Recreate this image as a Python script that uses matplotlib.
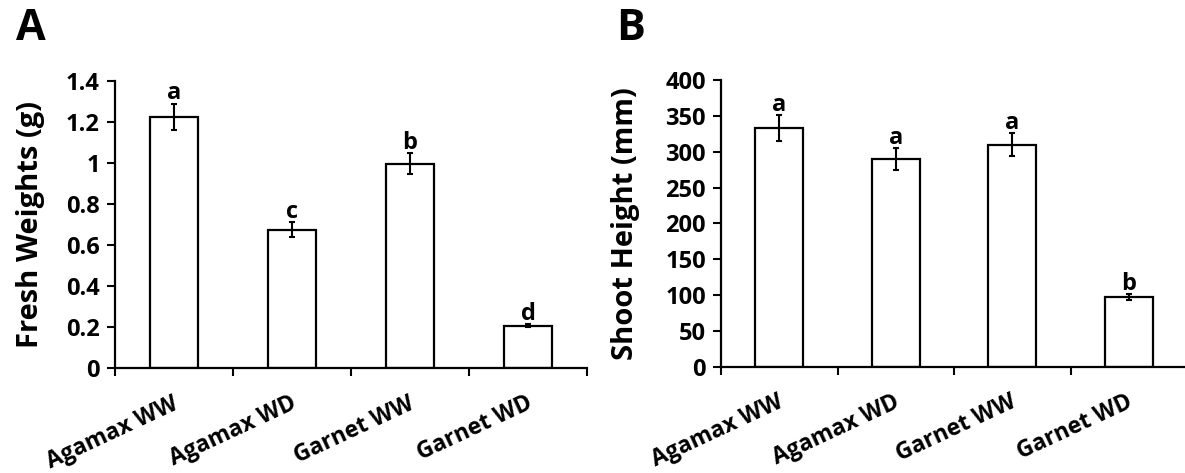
import matplotlib
matplotlib.use("Agg")
import matplotlib.pyplot as plt
from matplotlib.ticker import FixedLocator, NullFormatter
from matplotlib.transforms import ScaledTranslation

categories = ["Agamax WW", "Agamax WD", "Garnet WW", "Garnet WD"]

fresh_weight = [1.225, 0.675, 0.997, 0.207]
fresh_weight_err = [0.063, 0.035, 0.05, 0.006]
fresh_weight_letters = ["a", "c", "b", "d"]

shoot_height = [333, 290, 310, 97]
shoot_height_err = [17.5, 15, 16, 4.5]
shoot_height_letters = ["a", "a", "a", "b"]

plt.rcParams['font.family'] = ['Open Sans', 'DejaVu Sans']
plt.rcParams['font.weight'] = 'bold'

fig = plt.figure(figsize=(11.85, 4.73), dpi=100)
W, H = 1185, 473

def make_axes(left, right, top, bottom):
    return fig.add_axes([left / W, (H - bottom) / H, (right - left) / W, (bottom - top) / H])

axA = make_axes(115, 587, 81, 368)
axB = make_axes(721, 1187, 80, 366.7)

def draw(ax, vals, errs, letters, ylim, yticks, yticklabels, ylabel, letter_off, label_x):
    x = list(range(len(categories)))
    ax.bar(x, vals, width=0.41, color='white', edgecolor='black', linewidth=1.6, zorder=2)
    ax.errorbar(x, vals, yerr=errs, fmt='none', ecolor='black', elinewidth=1.5,
                capsize=2.2, capthick=1.5, zorder=3)
    for xi, v, e, l in zip(x, vals, errs, letters):
        ax.text(xi, v + e + letter_off, l, ha='center', va='baseline', fontsize=17,
                fontweight='bold')
    ax.set_xlim(-0.5, 3.5)
    ax.set_ylim(*ylim)
    ax.set_yticks(yticks)
    ax.set_yticklabels(yticklabels)
    ax.set_xticks(x)
    ax.set_xticklabels(categories, rotation=25, ha='right', rotation_mode='default')
    ax.xaxis.set_minor_locator(FixedLocator([-0.5, 0.5, 1.5, 2.5, 3.5]))
    ax.xaxis.set_minor_formatter(NullFormatter())
    ax.tick_params(axis='x', which='major', length=0, pad=17, labelsize=16.5)
    ax.tick_params(axis='x', which='minor', length=6, width=1.5, direction='out')
    ax.tick_params(axis='y', length=6, width=1.5, direction='out', labelsize=17, pad=5)
    shift = ScaledTranslation(0.08, 0, fig.dpi_scale_trans)
    for lab in ax.get_xticklabels():
        lab.set_transform(lab.get_transform() + shift)
    for s in ['top', 'right']:
        ax.spines[s].set_visible(False)
    for s in ['left', 'bottom']:
        ax.spines[s].set_linewidth(1.6)
    ax.set_ylabel(ylabel, fontsize=21, fontweight='bold')
    ax.yaxis.set_label_coords(label_x, 0.5)
    for lab in ax.get_xticklabels() + ax.get_yticklabels():
        lab.set_fontweight('bold')

draw(axA, fresh_weight, fresh_weight_err, fresh_weight_letters, (0, 1.4),
     [0, 0.2, 0.4, 0.6, 0.8, 1.0, 1.2, 1.4],
     ["0", "0.2", "0.4", "0.6", "0.8", "1", "1.2", "1.4"],
     "Fresh Weights (g)", 0.022, -0.148)
draw(axB, shoot_height, shoot_height_err, shoot_height_letters, (0, 400),
     [0, 50, 100, 150, 200, 250, 300, 350, 400],
     ["0", "50", "100", "150", "200", "250", "300", "350", "400"],
     "Shoot Height (mm)", 6, -0.174)

fig.text(16 / W, 1 - 40 / H, "A", fontsize=31, fontweight='bold', ha='left', va='baseline')
fig.text(616 / W, 1 - 40 / H, "B", fontsize=31, fontweight='bold', ha='left', va='baseline')

fig.savefig("out.png", dpi=100)
